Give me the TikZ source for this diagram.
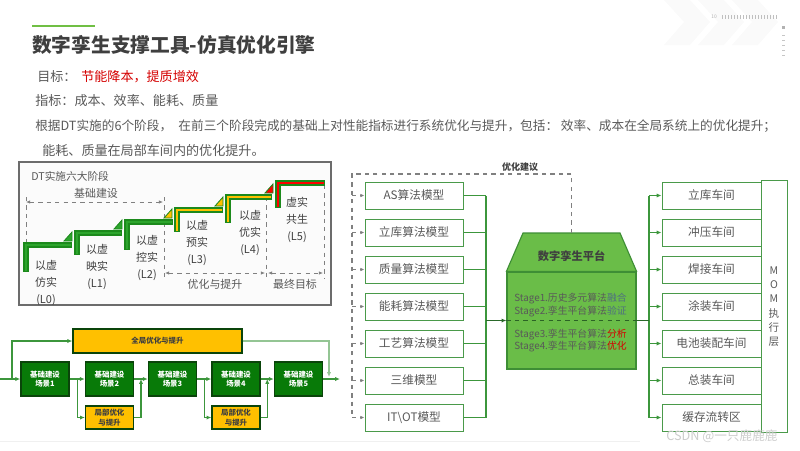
\documentclass[tikz,border=0pt]{standalone}
\usepackage{fontspec}
\setmainfont{Noto Sans CJK SC}
\usetikzlibrary{positioning,calc,arrows.meta,shapes.geometric}
\definecolor{txtgray}{HTML}{595959}
\definecolor{ttlgray}{HTML}{3F3F3F}
\definecolor{hired}{HTML}{D40000}
\definecolor{lgreen}{HTML}{70BF44}
\definecolor{lnGreen}{HTML}{3C963C}
\definecolor{boxGreen}{HTML}{4A9A4A}
\definecolor{platGreen}{HTML}{6ABD48}
\definecolor{platEdge}{HTML}{3E8E35}
\definecolor{sceneGreen}{HTML}{087A08}
\definecolor{sceneEdge}{HTML}{0A440A}
\definecolor{stepGreen}{HTML}{1C8A1C}
\definecolor{stepLight}{HTML}{2DA52D}
\definecolor{amber}{HTML}{FFC000}
\definecolor{stageBlue}{HTML}{4F6F80}
\tikzset{
  body/.style={anchor=west, inner sep=0pt, text=txtgray, font=\fontsize{9.3}{11}\selectfont},
  modelbox/.style={draw=boxGreen, line width=0.7pt, fill=white, minimum width=2.45cm, minimum height=0.675cm, inner sep=0pt, text=txtgray, font=\fontsize{8.3}{10}\selectfont},
  shopbox/.style={modelbox, minimum width=2.475cm},
  scenebox/.style={draw=sceneEdge, line width=1pt, fill=sceneGreen, minimum width=1.2cm, minimum height=0.85cm, inner sep=0pt, align=center, text=white, font=\fontsize{5.3}{6.6}\selectfont\bfseries},
  optbox/.style={draw=sceneEdge, line width=0.8pt, fill=amber, inner sep=0pt, align=center, text=ttlgray, font=\fontsize{5.3}{6.6}\selectfont\bfseries},
  stagelab/.style={align=center, inner sep=0pt, text=ttlgray, font=\fontsize{7.8}{12.2}\selectfont},
  conn/.style={lnGreen, line width=0.8pt},
  arr/.style={conn, -{Latex[length=3.5pt,width=3pt]}},
  fbline/.style={gray, dashed, line width=0.9pt},
  fbarr/.style={gray, dashed, line width=0.6pt, -{Latex[length=3pt,width=2.6pt]}},
  dimline/.style={gray, dashed, line width=0.5pt, {Latex[length=3pt,width=2.5pt]}-{Latex[length=3pt,width=2.5pt]}}
}
\begin{document}
\begin{tikzpicture}[x=0.025cm,y=-0.025cm]
\useasboundingbox (0,0) rectangle (800,450);

% slide decoration
\foreach \cx in {664,698,732}
  \fill[gray!4] (\cx,0) -- (\cx+26,0) -- (\cx+46,22) -- (\cx+26,45) -- (\cx,45) -- (\cx+20,22) -- cycle;
\node[inner sep=0pt, text=gray!60, font=\fontsize{3.5}{4}\selectfont] (pgno) at (714,17) {10};
\foreach \t in {0,...,18}
  \draw[gray!50, line width=0.3pt] ({722+3*\t},15) -- ({722+3*\t},19);
\fill[gray!60] (782,26) rectangle (785,29);
\foreach \t in {0,...,4}
  \draw[gray!45, line width=0.3pt] (782,{35+5*\t}) -- (785,{35+5*\t});
\draw[gray!12, line width=0.6pt] (0,441) -- (640,441);

% title and notes
\draw[lgreen, line width=2pt] (32,26) -- (95,26);
\node[anchor=west, inner sep=0pt, text=ttlgray, font=\fontsize{14}{16}\selectfont\bfseries] (title) at (32,45) {数字孪生支撑工具-仿真优化引擎};
\node[body] (goalK) at (37,77) {目标：};
\node[body, text=hired] (goalV) at (81,77) {节能降本，提质增效};
\node[body] (kpi) at (35,101) {指标：成本、效率、能耗、质量};
\node[body, font=\fontsize{9}{11}\selectfont] (desc1) at (35,126) {根据DT实施的6个阶段，\enspace 在前三个阶段完成的基础上对性能指标进行系统优化与提升，包括： 效率、成本在全局系统上的优化提升；};
\node[body] (desc2) at (42,151) {能耗、质量在局部车间内的优化提升。};

% DT stages panel
\draw[draw=gray!85!black, fill=gray!3, line width=1.4pt] (19,162) rectangle (331,305);
\node[anchor=west, inner sep=0pt, text=txtgray, font=\fontsize{7.6}{9}\selectfont] (dtT) at (31,176) {DT实施六大阶段};
\node[inner sep=0pt, text=txtgray, font=\fontsize{7.8}{9}\selectfont] (base) at (96,193) {基础建设};
\node[inner sep=0pt, text=txtgray, font=\fontsize{7.8}{9}\selectfont] (opt) at (215,284) {优化与提升};
\node[inner sep=0pt, text=txtgray, font=\fontsize{7.8}{9}\selectfont] (fin) at (295,284) {最终目标};
\draw[gray, dashed, line width=0.5pt] (26,197) -- (26,247);
\draw[gray, dashed, line width=0.5pt] (164,197) -- (164,278);
\draw[gray, dashed, line width=0.5pt] (266.5,197) -- (266.5,278);
\draw[gray, dashed, line width=0.5pt] (324,185) -- (324,278);
\draw[dimline] (26,202) -- (163,202);
\draw[dimline] (165,273) -- (265,273);
\draw[dimline] (268,273) -- (323,273);
\foreach \x/\y/\xe/\yb/\c in {26/245/72/272/stepLight, 77/233/122/255/stepLight, 127/222/173/250/stepLight, 177/210/223/232/amber, 228/197/272/223/amber, 278/183/325/208/red}{
  \draw[stepGreen, line width=4.4pt] (\xe,\y) -- (\x,\y) -- (\x,\yb);
  \draw[\c, line width=1.8pt] (\xe-1.5,\y) -- (\x,\y) -- (\x,\yb-1.5);
}
\foreach \x/\py/\c in {77/245/stepLight, 127/233/stepLight, 177/222/amber, 228/210/amber, 278/197/red}
  \filldraw[fill=\c, draw=stepGreen, line width=0.6pt] (\x-5,\py-4) -- (\x-13,\py-4) -- (\x-5,\py-13) -- cycle;
\foreach \n/\x/\y/\lbl in {L0/46/283/{以虚\\仿实\\(L0)}, L1/97/267/{以虚\\映实\\(L1)}, L2/147/258/{以虚\\控实\\(L2)}, L3/197/243/{以虚\\预实\\(L3)}, L4/250/233/{以虚\\优实\\(L4)}, L5/297/220/{虚实\\共生\\(L5)}}
  \node[stagelab] (lab\n) at (\x,\y) {\lbl};

% scene flow
\node[optbox, minimum width=4.225cm, minimum height=0.6cm] (glob) at (157.5,341) {全局优化与提升};
\foreach \i/\x in {1/45, 2/109.5, 3/172.5, 4/236, 5/298.5}
  \node[scenebox] (s\i) at (\x,379) {基础建设\\场景\i};
\node[optbox, minimum width=1.2cm, minimum height=0.575cm] (loc1) at (109.5,417.5) {局部优化\\与提升};
\node[optbox, minimum width=1.2cm, minimum height=0.575cm] (loc2) at (236,417.5) {局部优化\\与提升};
\coordinate (fin) at (0,379);
\coordinate (fsplit) at (12,379);
\coordinate (fout) at (340,379);
\coordinate (gdrop) at (329,377);
\draw[arr] (fin) -- (s1.west);
\draw[arr] (fsplit) |- (glob.west);
\draw[arr] (s1) -- (s2);
\draw[arr] ($(s1.east)!.5!(s2.west)$) |- (loc1.west);
\draw[arr] (loc1.east) -| ($(s2.east)!.5!(s3.west)$);
\draw[arr] (s2) -- (s3);
\draw[arr] (s3) -- (s4);
\draw[arr] ($(s3.east)!.5!(s4.west)$) |- (loc2.west);
\draw[arr] (loc2.east) -| ($(s4.east)!.5!(s5.west)$);
\draw[arr] (s4) -- (s5);
\draw[arr] (s5) -- (fout);
\draw[arr, lnGreen!55] (glob.east) -| (gdrop);

% models, platform, workshops
\foreach \lbl [count=\i from 0] in {AS算法模型, 立库算法模型, 质量算法模型, 能耗算法模型, 工艺算法模型, 三维模型, IT\textbackslash OT模型}
  \node[modelbox] (m\i) at (414,{195.5+37*\i}) {\lbl};
\foreach \lbl [count=\i from 0] in {立库车间, 冲压车间, 焊接车间, 涂装车间, 电池装配车间, 总装车间, 缓存流转区}
  \node[shopbox] (w\i) at (711.5,{195.5+37*\i}) {\lbl};
\node[draw=boxGreen, line width=0.7pt, minimum width=0.65cm, minimum height=6.275cm, inner sep=0pt, align=center, text=txtgray, font=\fontsize{7.5}{10.2}\selectfont] (mom) at (774,306.5) {M\\O\\M\\执\\行\\层};

\node[draw=platEdge, fill=platGreen, line width=0.8pt, minimum width=3.225cm, minimum height=2.425cm, inner sep=0pt] (plat) at (571.5,320.5) {};
\filldraw[draw=platEdge, fill=platGreen, line width=0.8pt] (plat.north west) -- (523,233) -- (620,233) -- (plat.north east) -- cycle;
\coordinate (ptop) at (571.5,233);
\node[inner sep=0pt, text=ttlgray, font=\fontsize{8}{10}\selectfont\bfseries] (platT) at (571.5,256) {数字孪生平台};
\draw[platEdge!70!black, dashed, line width=0.6pt] (plat.west) -- (plat.east);
\node[anchor=west, align=left, inner sep=0pt, text=txtgray, font=\fontsize{7}{7.4}\selectfont] (st12) at (514,305) {Stage1.历史多元算法{\color{stageBlue}融合}\\Stage2.孪生平台算法{\color{stageBlue}验证}};
\node[anchor=west, align=left, inner sep=0pt, text=txtgray, font=\fontsize{7}{7.4}\selectfont] (st34) at (514,340.5) {Stage3.孪生平台算法{\color{hired}分析}\\Stage4.孪生平台算法{\color{hired}优化}};

% feedback loop
\coordinate (fbTL) at (352,174);
\draw[fbline] (ptop) -- (ptop |- fbTL) -- (fbTL) -- (fbTL |- m6.west);
\node[inner sep=0pt, text=ttlgray, font=\fontsize{6.4}{8}\selectfont\bfseries] (fbT) at (520,167) {优化建议};
\foreach \i in {0,...,6}
  \draw[fbarr] (fbTL |- m\i.west) -- (m\i.west);

% buses
\coordinate (busL) at (486,0);
\coordinate (busR) at (649,0);
\foreach \i in {0,...,6}{
  \draw[conn] (m\i.east) -- (m\i.east -| busL);
  \draw[arr] (w\i.west -| busR) -- (w\i.west);
}
\draw[conn] (m0.east -| busL) -- (m6.east -| busL);
\draw[conn] (w0.west -| busR) -- (w6.west -| busR);
\draw[arr, line width=1.2pt, lnGreen!70!black] (plat.west -| busL) -- (plat.west);
\draw[conn, line width=1.2pt, lnGreen!70!black] (plat.east) -- (plat.east -| busR);

\node[inner sep=0pt, text=gray!40, font=\fontsize{9}{10}\selectfont] (wm) at (722,436) {CSDN @一只鹿鹿鹿};
\end{tikzpicture}
\end{document}
